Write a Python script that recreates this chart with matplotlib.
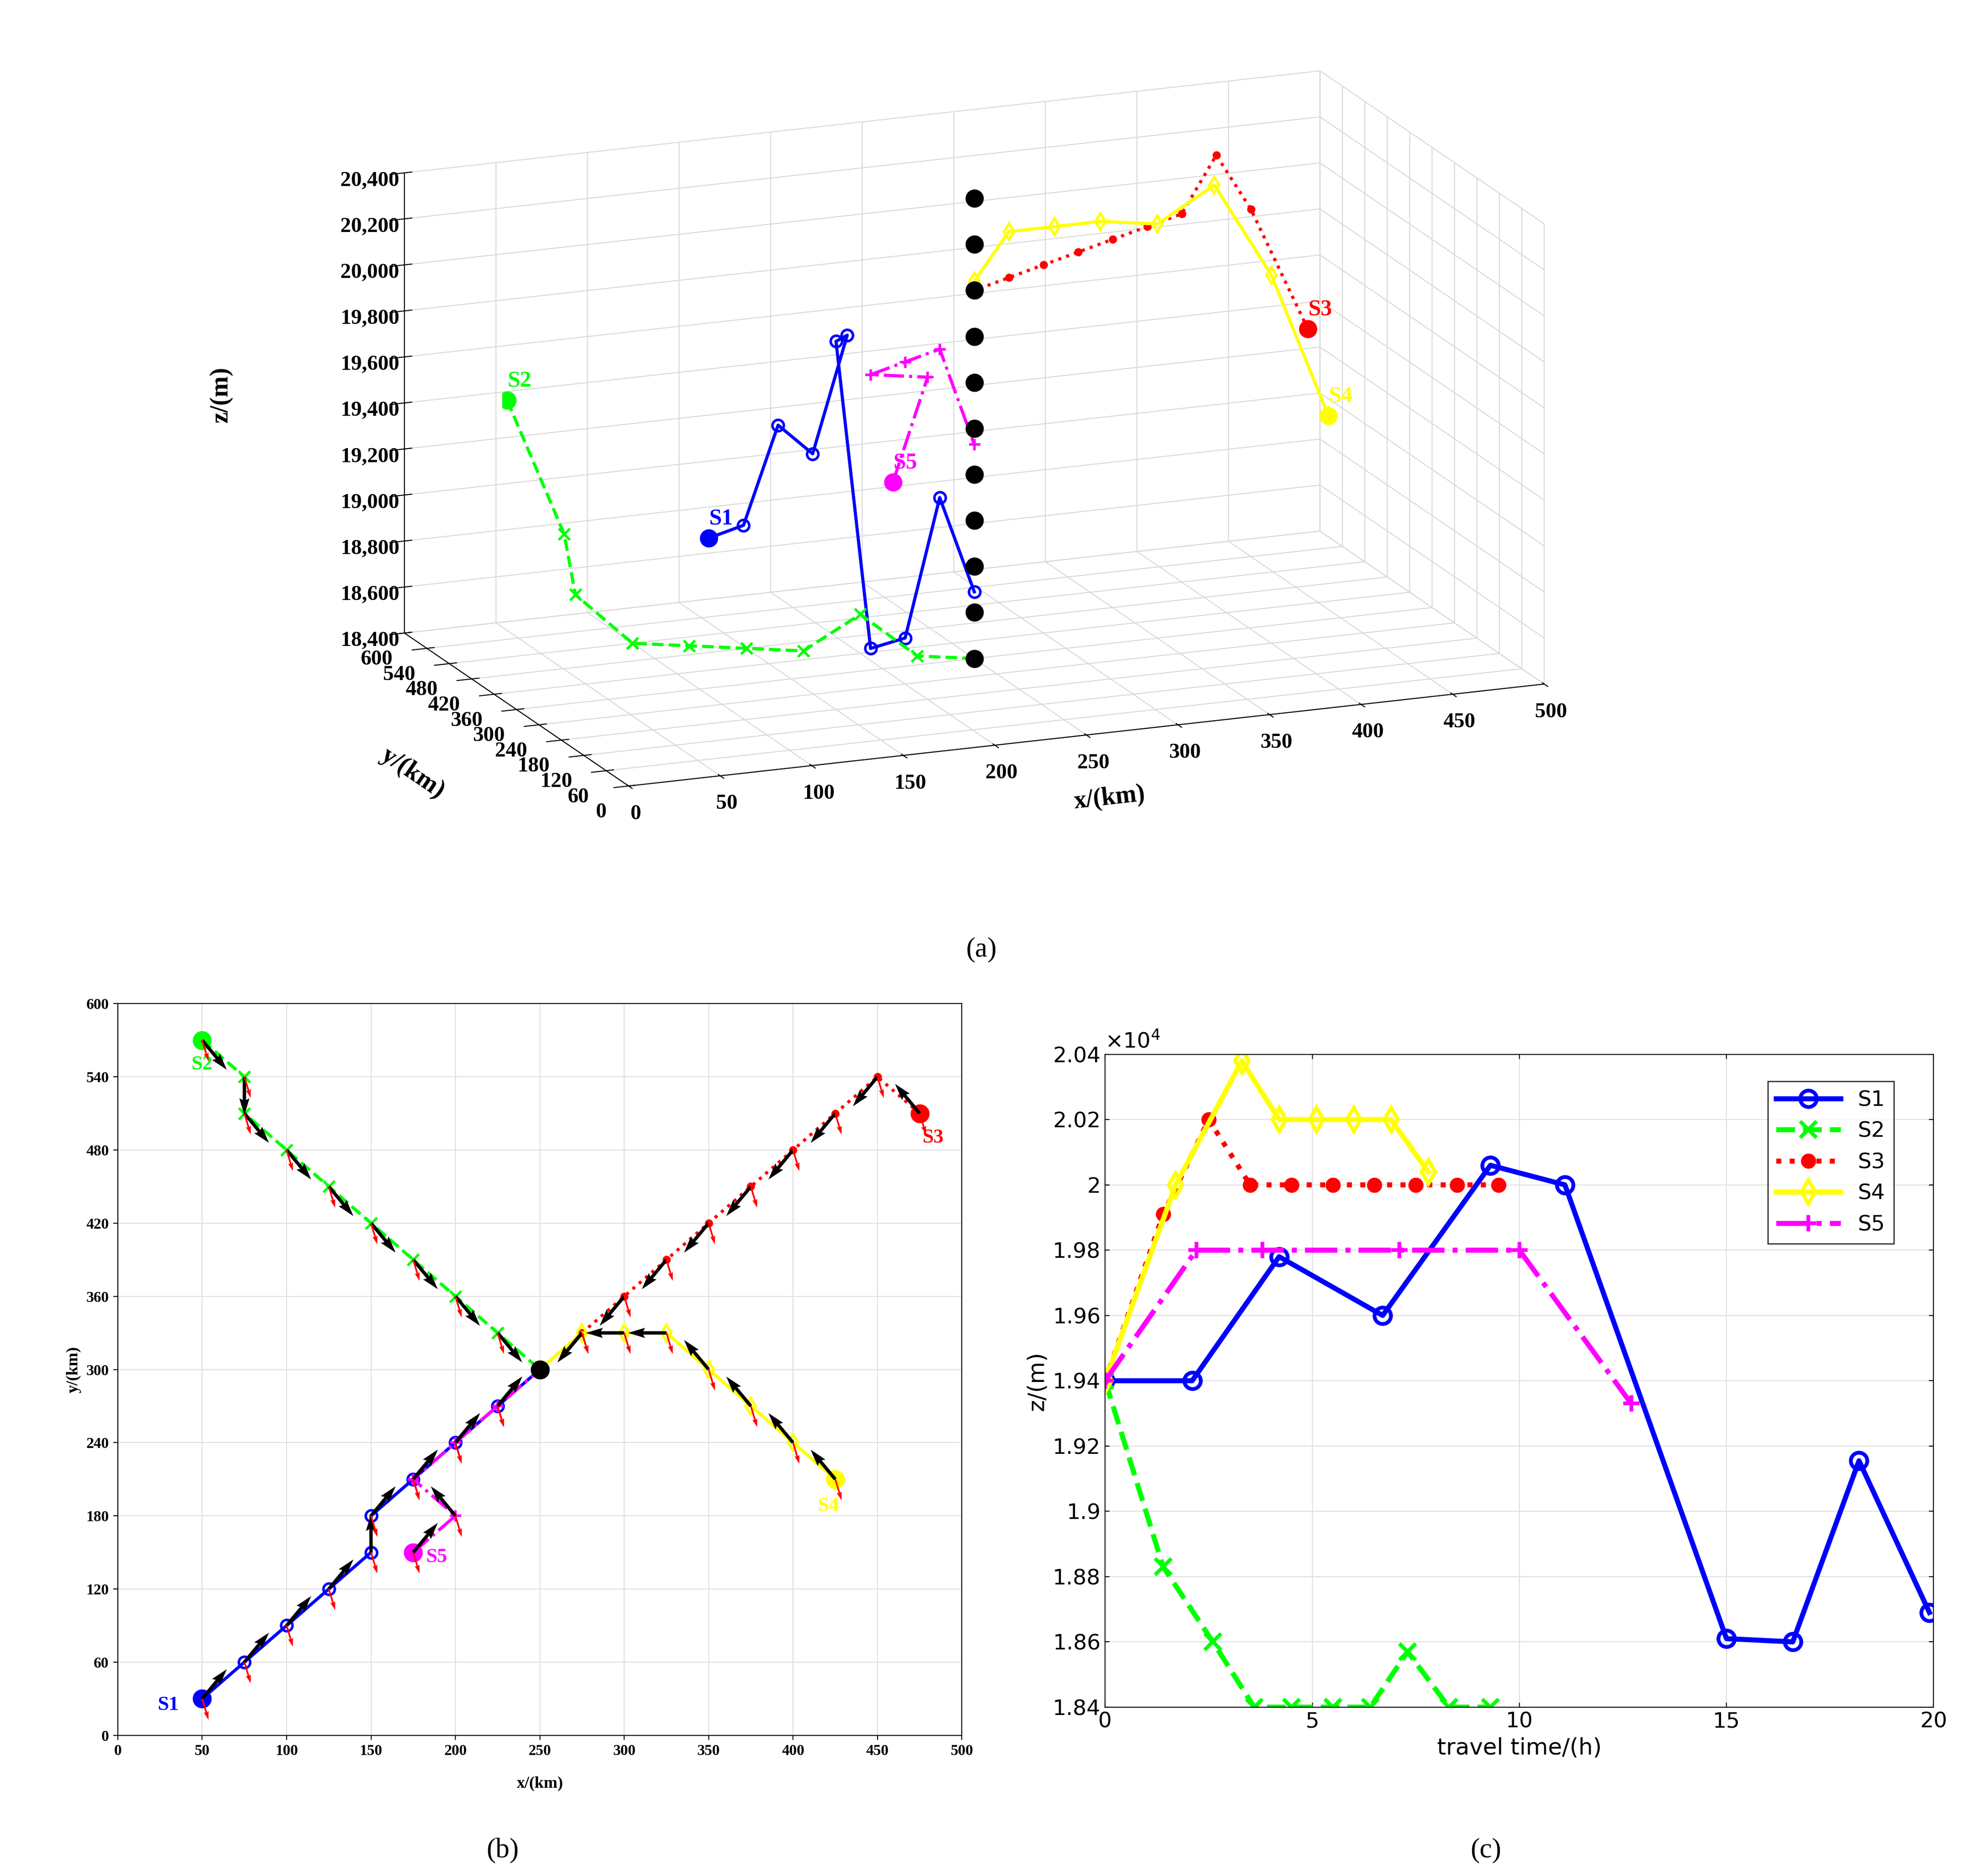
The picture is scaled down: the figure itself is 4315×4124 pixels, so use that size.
import numpy as np
import matplotlib
matplotlib.use('Agg')
import matplotlib.pyplot as plt
from matplotlib.ticker import FuncFormatter

# ---- data: horizontal paths (km)
s1_x = [50, 75, 100, 125, 150, 150, 175, 200, 225, 250]
s1_y = [30, 60, 90, 120, 150, 180, 210, 240, 270, 300]
s2_x = [50, 75, 75, 100, 125, 150, 175, 200, 225, 250]
s2_y = [570, 540, 510, 480, 450, 420, 390, 360, 330, 300]
s3_x = [475, 450, 425, 400, 375, 350, 325, 300, 275, 250]
s3_y = [510, 540, 510, 480, 450, 420, 390, 360, 330, 300]
s4_x = [425, 400, 375, 350, 325, 300, 275, 250]
s4_y = [210, 240, 270, 300, 330, 330, 330, 300]
s5_x = [175, 200, 175, 200, 225, 250]
s5_y = [150, 180, 210, 240, 270, 300]

# ---- data: altitude vs travel time
s1_t = [0, 2.1, 4.2, 6.7, 9.3, 11.1, 15.0, 16.6, 18.2, 19.9]
s1_z = [19400, 19400, 19780, 19600, 20060, 20000, 18610, 18600, 19155, 18690]
s2_t = [0, 1.4, 2.6, 3.6, 4.5, 5.5, 6.4, 7.3, 8.3, 9.3]
s2_z = [19400, 18830, 18600, 18400, 18400, 18400, 18400, 18570, 18400, 18400]
s3_t = [0, 1.4, 2.5, 3.5, 4.5, 5.5, 6.5, 7.5, 8.5, 9.5]
s3_z = [19400, 19910, 20200, 20000, 20000, 20000, 20000, 20000, 20000, 20000]
s4_t = [0, 1.7, 3.3, 4.2, 5.1, 6.0, 6.9, 7.8]
s4_z = [19400, 20000, 20380, 20200, 20200, 20200, 20200, 20040]
s5_t = [0, 2.2, 3.8, 7.1, 10.0, 12.7]
s5_z = [19400, 19800, 19800, 19800, 19800, 19330]

names = ['S1', 'S2', 'S3', 'S4', 'S5']
xs = [s1_x, s2_x, s3_x, s4_x, s5_x]
ys = [s1_y, s2_y, s3_y, s4_y, s5_y]
ts = [s1_t, s2_t, s3_t, s4_t, s5_t]
zs = [s1_z, s2_z, s3_z, s4_z, s5_z]
colors = ['#0000ff', '#00ff00', '#ff0000', '#ffff00', '#ff00ff']
styles = ['-', '--', ':', '-', '-.']
markers = ['o', 'x', '.', 'd', '+']
meet_z = [18400 + 200 * i for i in range(11)]

serif = ['Liberation Serif', 'DejaVu Serif']
fig = plt.figure(figsize=(21.575, 20.62), dpi=200)

# ---------------- (a) 3D
ax = fig.add_axes([-0.04, 0.52, 1.06, 0.49], projection='3d', computed_zorder=False)
ax.set_proj_type('ortho')
ax.view_init(elev=16, azim=-112)
ax.set_box_aspect((1.65, 1.0, 0.8), zoom=1.32)
for i in range(5):
    ax.plot(xs[i], ys[i], zs[i], color=colors[i], ls=styles[i], lw=2.5,
            marker=markers[i], ms=9, mfc='none' if i in (0, 3) else colors[i], mew=2)
    ax.scatter([xs[i][0]], [ys[i][0]], [zs[i][0]], color=colors[i], s=180, depthshade=False, zorder=5)
    ax.text(xs[i][0], ys[i][0], zs[i][0] + 60, names[i], color=colors[i],
            family=serif, weight='bold', fontsize=18)
ax.scatter([250] * len(meet_z), [300] * len(meet_z), meet_z, color='k', s=180, depthshade=False, zorder=5)
ax.set_xlim(0, 500)
ax.set_ylim(0, 600)
ax.set_zlim(18400, 20400)
ax.set_xticks(range(0, 501, 50))
ax.set_yticks(range(0, 601, 60))
ax.set_zticks(meet_z)
ax.zaxis.set_major_formatter(FuncFormatter(lambda v, p: f'{int(v):,}'))
for lab in ax.get_xticklabels() + ax.get_yticklabels() + ax.get_zticklabels():
    lab.set_family(serif); lab.set_weight('bold'); lab.set_fontsize(17)
ax.set_xlabel('x/(km)', family=serif, weight='bold', fontsize=20, labelpad=18)
ax.set_ylabel('y/(km)', family=serif, weight='bold', fontsize=20, labelpad=22)
ax.zaxis.set_rotate_label(False)
ax.set_zlabel('z/(m)', family=serif, weight='bold', fontsize=20, labelpad=40, rotation=90)
for a in (ax.xaxis, ax.yaxis, ax.zaxis):
    a.set_pane_color((1, 1, 1, 1))
    a._axinfo['grid']['color'] = (0.85, 0.85, 0.85, 1)
fig.text(0.5, 0.49, '(a)', ha='center', family=serif, fontsize=22)

# ---------------- (b) plan view
bx = fig.add_axes([0.06, 0.075, 0.43, 0.39])
for i in range(5):
    x = np.array(xs[i], float); y = np.array(ys[i], float)
    bx.plot(x, y, color=colors[i], ls=styles[i], lw=2.5, marker=markers[i], ms=9,
            mfc='none' if i in (0, 3) else colors[i], mew=2)
    bx.plot(x[0], y[0], 'o', color=colors[i], ms=14)
    dx = np.diff(x); dy = np.diff(y)
    n = np.hypot(dx, dy)
    bx.quiver(x[:-1], y[:-1], dx / n, dy / n, color='k', scale=22, width=0.004, zorder=4)
    bx.quiver(x[:-1], y[:-1], 0.3, -1, color='r', scale=40, width=0.002, zorder=4)
bx.plot(250, 300, 'o', color='k', ms=14)
lab_off = [(-20, -5), (0, -20), (8, -20), (-4, -22), (14, -4)]
for i in range(5):
    bx.text(xs[i][0] + lab_off[i][0], ys[i][0] + lab_off[i][1], names[i], color=colors[i],
            family=serif, weight='bold', fontsize=16, ha='center', va='center')
bx.set_xlim(0, 500); bx.set_ylim(0, 600)
bx.set_xticks(range(0, 501, 50)); bx.set_yticks(range(0, 601, 60))
bx.grid(True, color='#e0e0e0')
for lab in bx.get_xticklabels() + bx.get_yticklabels():
    lab.set_family(serif); lab.set_weight('bold'); lab.set_fontsize(12)
bx.set_xlabel('x/(km)', family=serif, weight='bold', fontsize=13, labelpad=14)
bx.set_ylabel('y/(km)', family=serif, weight='bold', fontsize=13)
fig.text(0.256, 0.01, '(b)', ha='center', family=serif, fontsize=22)

# ---------------- (c) altitude
cx = fig.add_axes([0.563, 0.09, 0.422, 0.348])
for i in range(5):
    cx.plot(ts[i], np.array(zs[i]) / 1e4, color=colors[i], ls=styles[i], lw=4,
            marker=markers[i], ms=13 if i != 2 else 18, mfc='none' if i in (0, 3) else colors[i],
            mew=3, label=names[i])
cx.set_xlim(0, 20); cx.set_ylim(1.84, 2.04)
cx.set_xticks([0, 5, 10, 15, 20])
cx.set_yticks(np.arange(1.84, 2.041, 0.02))
cx.yaxis.set_major_formatter(FuncFormatter(lambda v, p: f'{v:.2f}'.rstrip('0').rstrip('.')))
cx.grid(True, color='#e0e0e0')
cx.tick_params(labelsize=17, direction='in', top=True, right=True)
cx.text(0.0, 1.01, r'$\times10^4$', transform=cx.transAxes, fontsize=17)
cx.set_xlabel('travel time/(h)', fontsize=18)
cx.set_ylabel('z/(m)', fontsize=18)
leg = cx.legend(loc='upper right', fontsize=17, fancybox=False, edgecolor='k',
                bbox_to_anchor=(0.965, 0.975), handlelength=3)
fig.text(0.757, 0.01, '(c)', ha='center', family=serif, fontsize=22)

fig.savefig('out.png', dpi=200, facecolor='white')
